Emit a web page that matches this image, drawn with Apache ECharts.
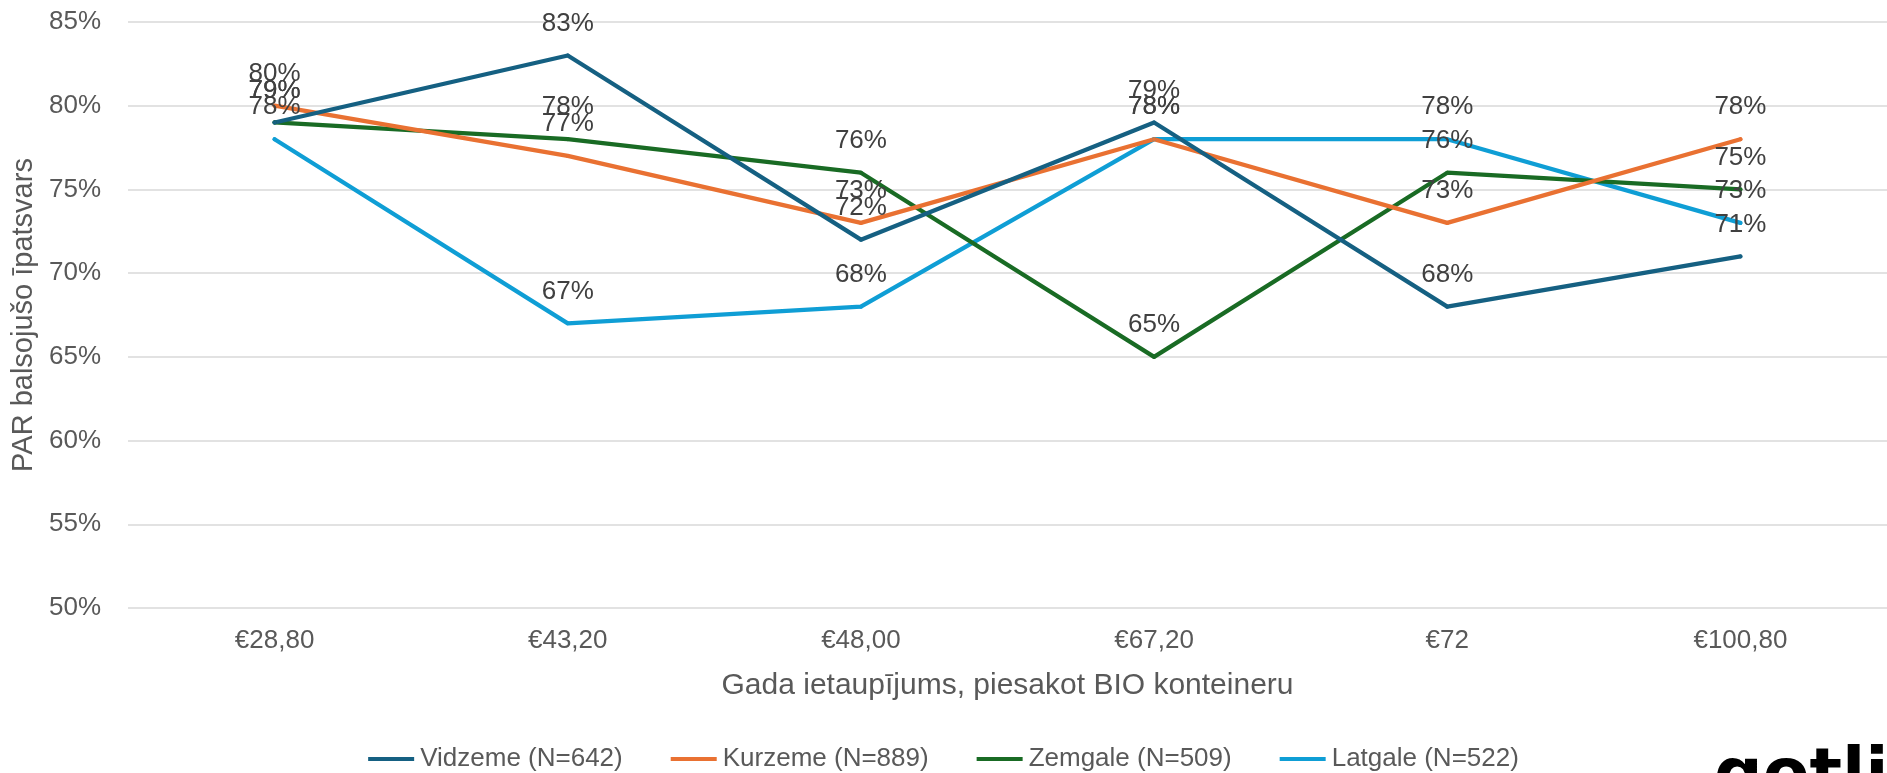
<!DOCTYPE html>
<html>
<head>
<meta charset="utf-8">
<script src="https://cdn.jsdelivr.net/npm/echarts@6/dist/echarts.min.js"></script>
<style>
  html, body { margin: 0; padding: 0; background: #fff; }
  #chart { width: 1887px; height: 773px; }
</style>
</head>
<body>
<div id="chart"></div>
<script>
  const categories = ['€28,80', '€43,20', '€48,00', '€67,20', '€72', '€100,80']
  const vidzeme = [79, 83, 72, 79, 68, 71]
  const kurzeme = [80, 77, 73, 78, 73, 78]
  const zemgale = [79, 78, 76, 65, 76, 75]
  const latgale = [78, 67, 68, 78, 78, 73]
  const seriesNames = ['Vidzeme (N=642)', 'Kurzeme (N=889)', 'Zemgale (N=509)', 'Latgale (N=522)']
  const colors = ['#156082', '#E97132', '#196B24', '#0F9ED5']

  const font = 'Liberation Sans, Arial, sans-serif'

  let myChart = echarts.init(document.getElementById('chart'))

  function makeSeries(name, data, color) {
    return {
      name: name,
      type: 'line',
      data: data,
      // small dot hidden inside the line, labels need a symbol
      symbol: 'circle',
      symbolSize: 4,
      itemStyle: { color: color },
      color: color,
      lineStyle: { width: 4.25, color: color, cap: 'round', join: 'round' },
      label: {
        show: true,
        position: 'top',
        distance: 17,
        formatter: '{c}%',
        color: '#404040',
        fontSize: 26,
        fontFamily: font
      },
      emphasis: { disabled: true },
      animation: false
    }
  }

  const option = {
    animation: false,
    grid: {
      top: 22,
      bottom: 165,
      left: 128,
      right: 0
    },
    // legend at the bottom
    legend: {
      left: 'center',
      top: 741,
      itemWidth: 46,
      itemHeight: 4,
      itemGap: 48,
      icon: 'rect',
      textStyle: {
        color: '#595959',
        fontSize: 26,
        fontFamily: font,
        padding: [0, 0, 0, 1]
      },
      data: seriesNames
    },
    xAxis: {
      type: 'category',
      data: categories,
      boundaryGap: true,
      name: 'Gada ietaupījums, piesakot BIO konteineru',
      nameLocation: 'middle',
      nameGap: 63,
      nameTextStyle: { color: '#595959', fontSize: 30, fontFamily: font },
      axisLine: { show: false },
      axisTick: { show: false },
      axisLabel: { color: '#595959', fontSize: 26, fontFamily: font, margin: 20 }
    },
    yAxis: {
      type: 'value',
      min: 50,
      max: 85,
      interval: 5,
      name: 'PAR balsojušo īpatsvars',
      nameLocation: 'middle',
      nameGap: 90,
      nameTextStyle: { color: '#595959', fontSize: 29, fontFamily: font },
      axisLine: { show: false },
      axisTick: { show: false },
      axisLabel: { color: '#595959', fontSize: 26, fontFamily: font, formatter: '{value}%', margin: 27 },
      splitLine: { lineStyle: { color: '#D9D9D9', width: 1.5 } }
    },
    graphic: [
      {
        type: 'text',
        left: 1714,
        top: 744,
        style: {
          text: 'gotli',
          fill: '#000',
          font: 'bold 68px DejaVu Sans, sans-serif'
        }
      }
    ],
    series: [
      makeSeries(seriesNames[3], latgale, colors[3]),
      makeSeries(seriesNames[2], zemgale, colors[2]),
      makeSeries(seriesNames[1], kurzeme, colors[1]),
      makeSeries(seriesNames[0], vidzeme, colors[0])
    ]
  }

  myChart.setOption(option)
</script>
</body>
</html>
